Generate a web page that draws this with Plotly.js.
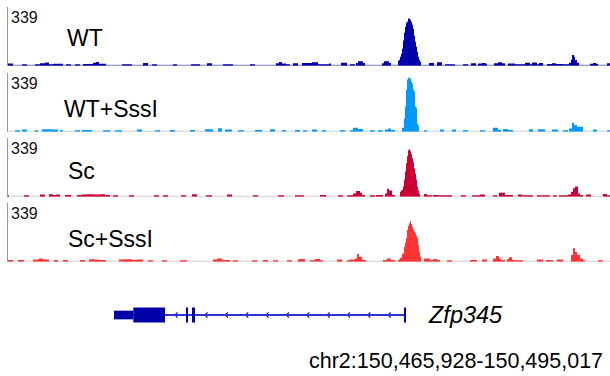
<!DOCTYPE html>
<html>
<head>
<meta charset="utf-8">
<script src="https://cdn.plot.ly/plotly-3.0.1.min.js"></script>
<style>html,body{margin:0;padding:0;background:#fff;}#chart{width:610px;height:376px;}</style>
</head>
<body>
<div id="chart"></div>
<script>
// ---- region ----
const chrom = "chr2";
const regionStart = 150465928;
const regionEnd = 150495017;
const nBins = 602;
const trackMax = 339;

// ---- coverage tracks: bin start index and value (value holds until next start) ----
const trackNames = ["WT", "WT+SssI", "Sc", "Sc+SssI"];
const trackColors = ["#0000aa", "#0099ff", "#cc0033", "#ff3333"];

const wtStart = [0,5,14,19,27,32,37,41,45,55,58,63,67,72,75,85,88,91,98,114,124,135,140,144,149,165,169,183,192,199,204,215,225,242,247,268,271,274,278,282,285,290,294,304,310,321,323,333,339,342,347,348,350,355,357,374,376,381,383,
  390,391,392,393,394,395,396,397,398,399,400,401,402,403,404,405,406,407,408,409,410,411,412,413,
  421,426,429,434,437,447,455,460,463,468,470,474,477,479,486,490,494,497,500,507,517,522,524,529,531,535,539,544,548,555,561,563,564,566,567,569,571,582,585,588,590,599,602];
const wtValue = [12,0,9,0,9,14,18,9,11,0,9,0,9,0,10,17,21,11,0,9,0,15,0,9,0,9,0,9,0,14,0,9,0,9,0,14,21,12,9,0,14,0,15,20,8,12,0,17,0,9,0,16,26,16,0,14,26,16,0,
  29,35,52,69,98,145,191,225,249,254,272,272,266,254,237,214,173,139,110,81,52,35,23,0,
  15,0,20,0,9,0,9,0,14,0,12,15,12,0,14,20,14,0,13,8,17,8,19,8,15,0,10,14,10,9,17,35,62,52,33,17,0,11,15,11,0,14,0];

const wtsStart = [7,12,14,19,27,30,34,44,50,52,55,67,72,74,84,95,102,107,114,129,134,147,152,162,167,182,187,197,205,210,214,217,224,230,236,247,254,262,267,274,278,287,292,
  295,299,304,309,314,318,332,337,342,345,350,355,362,367,370,375,377,380,383,387,
  394,395,396,397,398,399,400,401,402,403,404,405,406,407,408,409,410,411,
  416,419,432,436,444,448,455,460,472,477,485,490,493,495,500,505,521,525,530,537,544,550,555,560,561,564,566,569,575,585,589,599,602];
const wtsValue = [8,0,12,0,8,0,14,12,0,8,0,8,0,10,0,8,0,8,0,12,0,8,0,10,0,10,0,14,0,20,0,12,0,9,0,10,0,14,0,9,0,10,0,
  9,0,13,0,9,0,9,0,9,23,15,0,8,0,8,0,12,19,10,0,
  23,23,75,145,243,301,312,312,306,289,277,243,231,145,139,46,35,0,
  8,0,12,0,12,0,8,0,8,0,23,10,0,15,10,0,14,0,14,0,12,0,8,0,18,52,38,29,0,12,0,8,0];

const scStart = [0,1,16,21,32,37,41,45,48,52,57,63,69,74,79,85,92,97,102,105,110,121,126,146,151,155,160,173,178,184,189,198,204,219,224,245,250,270,276,287,296,
  312,318,330,335,339,345,348,352,354,357,362,367,368,375,377,379,381,384,387,
  392,393,394,395,396,397,398,399,400,401,402,403,404,405,406,407,408,409,410,411,412,
  416,419,424,425,430,444,453,458,464,472,477,485,489,491,497,505,510,514,525,529,542,545,549,551,560,563,565,567,570,572,575,578,583,595,599,602];
const scValue = [8,0,8,0,12,0,14,10,12,0,10,0,10,12,14,12,14,10,0,8,0,8,0,8,0,8,0,8,0,14,0,8,0,12,0,8,0,8,0,9,0,
  10,0,8,0,8,19,33,23,10,0,8,0,10,0,19,46,35,10,0,
  29,35,40,58,98,145,191,231,266,272,260,243,220,197,162,133,98,58,35,17,0,
  15,8,0,10,8,0,8,0,8,12,0,8,0,23,10,0,12,8,0,8,0,8,0,9,12,29,48,58,19,10,0,12,0,15,8,0];

const scsStart = [0,5,10,16,25,31,35,41,46,50,55,60,72,77,81,86,91,98,111,117,124,129,135,140,145,154,159,172,179,205,209,214,222,225,230,244,249,255,260,265,270,279,284,290,292,297,
  302,307,312,315,329,334,339,342,347,349,351,354,358,375,379,383,387,
  390,391,392,393,394,395,396,397,398,399,400,401,402,403,404,405,406,407,408,409,410,411,412,413,
  416,422,425,429,432,439,444,462,469,474,479,485,488,491,493,497,499,501,504,505,515,529,535,538,545,549,555,563,565,567,569,572,575,577,590,595,602];
const scsValue = [10,0,10,0,12,19,12,0,10,0,10,0,10,0,14,12,10,0,12,14,10,12,0,8,0,8,0,8,0,12,19,10,0,8,0,8,0,10,0,8,0,8,0,14,15,0,
  8,15,8,0,12,0,8,12,19,44,29,10,0,10,19,10,0,
  10,13,23,23,48,48,87,110,135,183,206,222,235,218,202,183,175,164,150,135,96,58,29,0,
  19,10,15,10,0,8,0,10,0,12,0,19,33,19,10,0,15,25,12,8,0,12,0,10,0,12,0,38,77,58,38,19,8,0,8,0,0];

// ---- gene model (genomic coordinates) ----
const geneName = "Zfp345";
const txStart = 150471050;
const txEnd = 150485160;
const exonStart = [150471050, 150471983, 150474529, 150474819, 150485063];
const exonEnd   = [150471983, 150473514, 150474626, 150474964, 150485160];
const exonThick = [false, true, true, true, true];

// ---- layout helpers (pixels) ----
const W = 610, H = 376, ML = 8;
const binSize = (regionEnd - regionStart) / nBins;
const px2paperY = py => 1 - py / H;
const px2paperX = px => (px - ML) / (W - ML);
const trackTopPx = [7, 73, 137.5, 203];
const trackBotPx = [65.7, 131.7, 196.7, 261.7];
const nameLeftPx = [64.5, 61.5, 65.5, 66];
const nameMidPx = [38.5, 108.5, 171.5, 238.5];
const baseColors = ["rgb(125,125,215)", "#cfcfcf", "#cfcfcf", "#cfcfcf"];

const starts = [wtStart, wtsStart, scStart, scsStart];
const values = [wtValue, wtsValue, scValue, scsValue];

const traces = [];
const shapes = [];
const annotations = [];
const layout = {
  width: W, height: H,
  margin: {l: ML, r: 0, t: 0, b: 0},
  paper_bgcolor: "#fff", plot_bgcolor: "rgba(0,0,0,0)",
  showlegend: false,
  font: {family: "Liberation Sans, Arial, sans-serif", color: "#111"},
  xaxis: {range: [regionStart, regionEnd], visible: false, fixedrange: true},
};

for (let i = 0; i < 4; i++) {
  const ya = i === 0 ? "y" : "y" + (i + 1);
  const key = i === 0 ? "yaxis" : "yaxis" + (i + 1);
  layout[key] = {
    domain: [px2paperY(trackBotPx[i]), px2paperY(trackTopPx[i])],
    range: [0, trackMax],
    showline: true, linecolor: "#9a9a9a", linewidth: 1,
    showgrid: false, zeroline: false, showticklabels: false, ticks: "",
    fixedrange: true, anchor: "x"
  };
  shapes.push({type: "line", xref: "x", yref: ya, x0: regionStart, x1: regionEnd, y0: 0, y1: 0,
    line: {color: baseColors[i], width: 2}, layer: "below"});
  traces.push({
    type: "scatter", mode: "lines", xaxis: "x", yaxis: ya,
    x: starts[i].map(b => regionStart + b * binSize),
    y: values[i],
    line: {shape: "hv", width: 0, color: trackColors[i]},
    fill: "tozeroy", fillcolor: trackColors[i], hoverinfo: "skip"
  });
  annotations.push({xref: "paper", yref: "paper", x: px2paperX(8.5), y: px2paperY(trackTopPx[i]),
    xanchor: "left", yanchor: "top", text: String(trackMax), showarrow: false,
    font: {size: 16, color: "#111"}});
  annotations.push({xref: "paper", yref: "paper", x: px2paperX(nameLeftPx[i]), y: px2paperY(nameMidPx[i]),
    xanchor: "left", yanchor: "middle", text: trackNames[i], showarrow: false,
    font: {size: 23, color: "#000"}});
}

// gene track axis
layout.yaxis5 = {domain: [px2paperY(330), px2paperY(300)], range: [-1, 1], visible: false, fixedrange: true, anchor: "x"};
const geneBlue = "#0000aa";
shapes.push({type: "line", xref: "x", yref: "y5", x0: txStart, x1: txEnd, y0: 0, y1: 0,
  line: {color: "rgb(50,50,205)", width: 2}});
for (let k = 0; k < exonStart.length; k++) {
  const h = exonThick[k] ? 0.5 : 0.29;
  shapes.push({type: "rect", xref: "x", yref: "y5", x0: exonStart[k], x1: exonEnd[k], y0: -h, y1: h,
    line: {width: 0}, fillcolor: geneBlue});
}
// strand chevrons (minus strand)
const pxBp = binSize;
const chevStep = 20.35 * pxBp, chevW = 2.5 * pxBp, chevH = 0.17;
const cx = [], cy = [], wx = [], wy = [];
function chevron(arrX, arrY, x) {
  arrX.push(x + chevW, x, x + chevW, null);
  arrY.push(chevH, 0, -chevH, null);
}
for (let k = 0; k < exonStart.length - 1; k++) {
  const a = exonEnd[k], b = exonStart[k + 1];
  for (let x = a + 10 * pxBp; x < b - 5 * pxBp; x += chevStep) chevron(cx, cy, x);
}
for (let k = 0; k < exonStart.length; k++) {
  if (!exonThick[k]) continue;
  for (let x = exonStart[k] + 20 * pxBp; x < exonEnd[k] - 5 * pxBp; x += chevStep) chevron(wx, wy, x);
}
traces.push({type: "scatter", mode: "lines", xaxis: "x", yaxis: "y5", x: cx, y: cy,
  line: {color: "#1010cc", width: 1.2}, hoverinfo: "skip", connectgaps: false});
traces.push({type: "scatter", mode: "lines", xaxis: "x", yaxis: "y5", x: wx, y: wy,
  line: {color: "#ffffff", width: 1.2}, hoverinfo: "skip", connectgaps: false});

annotations.push({xref: "paper", yref: "paper", x: px2paperX(426), y: px2paperY(315),
  xanchor: "left", yanchor: "middle", text: "<i>" + geneName + "</i>", showarrow: false,
  font: {size: 23.5, color: "#000"}});
const fmt = n => n.toLocaleString("en-US");
annotations.push({xref: "paper", yref: "paper", x: px2paperX(605), y: px2paperY(361),
  xanchor: "right", yanchor: "middle", text: chrom + ":" + fmt(regionStart) + "-" + fmt(regionEnd), showarrow: false,
  font: {size: 21.5, color: "#000"}});

layout.shapes = shapes;
layout.annotations = annotations;
Plotly.newPlot("chart", traces, layout, {staticPlot: true, displayModeBar: false});
</script>
</body>
</html>
